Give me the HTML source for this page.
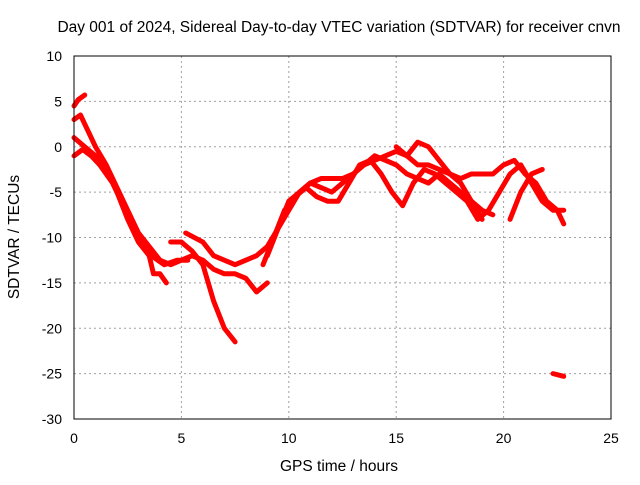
<!DOCTYPE html>
<html><head><meta charset="utf-8"><style>
body{margin:0;background:#fff;font-family:"Liberation Sans",sans-serif}
svg text{font-family:"Liberation Sans",sans-serif;font-size:14px;fill:#000}
svg text.big{font-size:15.5px}
</style></head><body>
<svg id="c" width="640" height="480">
<rect width="640" height="480" fill="#fff"/>
<text class="big" x="339" y="32" text-anchor="middle">Day 001 of 2024, Sidereal Day-to-day VTEC variation (SDTVAR) for receiver cnvn</text>
<text class="big" x="339" y="471" text-anchor="middle">GPS time / hours</text>
<text class="big" transform="translate(19,237) rotate(-90)" text-anchor="middle">SDTVAR / TECUs</text>
<g id="grid"></g><g id="marks"></g>
<rect x="74" y="56" width="537" height="363" fill="none" stroke="#000"/>
</svg>
<script>
const xTicks=[0,5,10,15,20,25];
const yTicks=[10,5,0,-5,-10,-15,-20,-25,-30];
const s1x=[0,0.2,0.5];const s1y=[4.5,5.2,5.7];
const s2x=[0,0.3,0.6,1,1.5,2,2.5,3,3.5,4,4.5,5,5.5,6,6.5,7,7.5,8,8.5,9];
const s2y=[3,3.5,2,0,-2,-4.5,-7,-9.5,-11,-12.5,-13,-12.5,-12,-12.5,-13.5,-14,-14,-14.5,-16,-15];
const s3x=[0,0.5,1,1.5,2,2.5,3,3.5,3.7,4,4.3];
const s3y=[1,0,-1,-2.5,-5,-8,-10.5,-12,-14,-14,-15];
const s4x=[0,0.4,0.8,1.2,1.8,2.4,3,3.6,4.2,4.8,5.3];
const s4y=[-1,-0.3,-1,-2,-4,-7,-10,-12,-13,-12.5,-12.5];
const s5x=[4.5,5,5.5,6,6.5,7,7.5];const s5y=[-10.5,-10.5,-11.5,-13,-17,-20,-21.5];
const s6x=[5.2,6,6.5,7,7.5,8,8.5,9,9.5,10,10.5,11,11.5,12,12.5,13,13.5,14,14.5,15,15.5,16,16.5,17,17.5,18,18.5,19,19.5];
const s6y=[-9.5,-10.5,-12,-12.5,-13,-12.5,-12,-11,-9,-6,-5,-4,-4.5,-5,-4,-3,-2,-1,-1.5,-2,-3,-3.5,-4,-3,-4,-5,-6,-7,-7.5];
const s7x=[8.8,9.3,9.8,10.3,10.8,11.3,11.8,12.3,12.8,13.3,13.8,14.3,14.8,15.3,15.8,16.3,16.8,17.3,17.8,18.3,18.8,19.3,19.8,20.3,20.8,21.3,21.8,22.3,22.8];
const s7y=[-13,-10,-7,-5.5,-4.5,-5.5,-6,-6,-4,-2,-1.5,-3,-5,-6.5,-4,-2.5,-3,-4,-5,-6,-8,-7,-5,-3,-2,-4,-6,-7,-7];
const s8x=[9,9.5,10,10.5,11,11.5,12,12.5,13,13.5,14,14.5,15,15.5,16,16.5,17,17.5,18,18.5,19,19.5,20,20.5,21,21.5,22,22.5,22.8];
const s8y=[-12,-9,-7,-5,-4,-3.5,-3.5,-3.5,-3,-2,-1.5,-1,-0.5,-1,-2,-2,-2.5,-3,-3.5,-3,-3,-3,-2,-1.5,-3,-4,-6,-7,-8.5];
const s9x=[15,15.5,16,16.5,17,17.5,18,18.5,19];const s9y=[0,-1,0.5,0,-1.5,-3,-4,-6,-8];
const s10x=[20.3,20.8,21.3,21.8];const s10y=[-8,-5,-3,-2.5];
const s11x=[22.3,22.8];const s11y=[-25,-25.3];
const series=[[s1x,s1y],[s2x,s2y],[s3x,s3y],[s4x,s4y],[s5x,s5y],[s6x,s6y],[s7x,s7y],[s8x,s8y],[s9x,s9y],[s10x,s10y],[s11x,s11y]];
const X=v=>74+v*537/25, Y=v=>56+(10-v)*363/40;
const NS="http://www.w3.org/2000/svg";
const g=document.getElementById('grid'),m=document.getElementById('marks');
function mk(t,a,p){const e=document.createElementNS(NS,t);for(const k in a)e.setAttribute(k,a[k]);p.appendChild(e);return e;}
xTicks.forEach(v=>{
 const l=mk('line',{x1:X(v),x2:X(v),y1:56,y2:419,stroke:'#a0a0a0','stroke-dasharray':'2,3'},g);
 
 
 const t=mk('text',{x:X(v),y:443,'text-anchor':'middle'},g);t.textContent=v;
 
 
});
yTicks.forEach(v=>{
 const l=mk('line',{x1:74,x2:611,y1:Y(v),y2:Y(v),stroke:'#a0a0a0','stroke-dasharray':'2,3'},g);
 
 
 const t=mk('text',{x:62,y:Y(v)+5,'text-anchor':'end'},g);t.textContent=v;
 
 
});
series.forEach(([xs,ys])=>{
 const p=mk('polyline',{points:xs.map((x,i)=>X(x)+','+Y(ys[i])).join(' '),fill:'none',stroke:'#ff0000','stroke-width':5,'stroke-linejoin':'round','stroke-linecap':'round'},m);
 
 
});
</script>
</body></html>
